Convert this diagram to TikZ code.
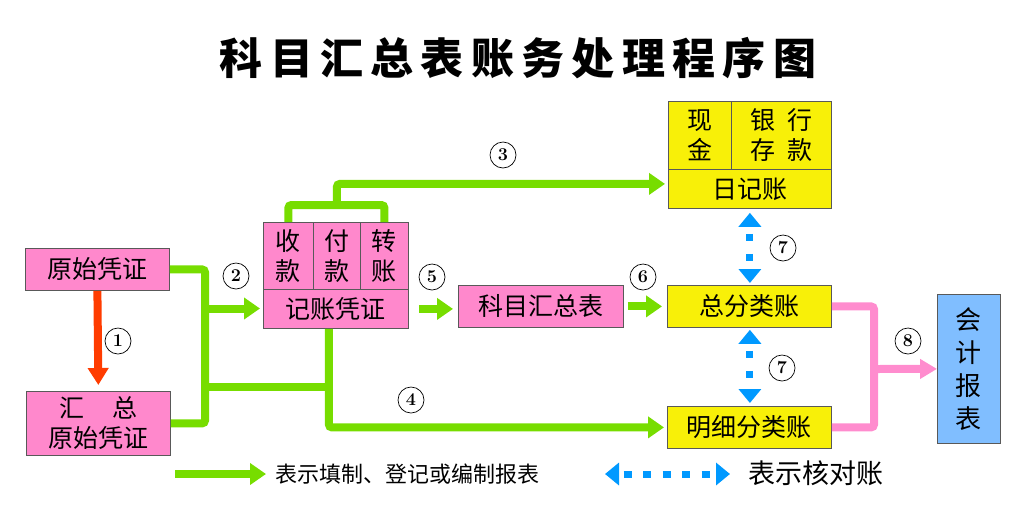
\documentclass[tikz,border=0pt]{standalone}
\usepackage{fontspec}
\newfontfamily\cjk{Noto Sans CJK SC}
\newfontfamily\cjktitle[LetterSpace=17]{Noto Sans CJK SC}
\usetikzlibrary{arrows.meta,positioning,calc}

\definecolor{boxpink}{RGB}{255,136,204}
\definecolor{boxyellow}{RGB}{248,240,8}
\definecolor{boxblue}{RGB}{128,190,255}
\definecolor{flowgreen}{RGB}{119,221,0}
\definecolor{flowred}{RGB}{255,60,0}
\definecolor{checkblue}{RGB}{0,153,255}
\definecolor{linkpink}{RGB}{255,140,206}

\begin{document}
\begin{tikzpicture}[
    x=1pt, y=-1pt,
    box/.style={draw=black!65, line width=0.8pt, anchor=north west, inner sep=0pt,
        align=center, font=\cjk\fontsize{25}{30}\selectfont},
    pinkbox/.style={box, fill=boxpink},
    yellowbox/.style={box, fill=boxyellow},
    num/.style={circle, draw, line width=0.7pt, minimum size=26pt, inner sep=0pt,
        font=\bfseries\fontsize{18}{18}\selectfont},
    flow/.style={draw=flowgreen, line width=8pt, rounded corners=3pt},
    flowarrow/.style={flow, -{Triangle[length=16pt,width=21pt]}},
    sumline/.style={draw=linkpink, line width=8pt, rounded corners=3pt},
    sumarrow/.style={sumline, -{Triangle[length=17pt,width=19pt]}},
    check/.style={draw=checkblue, line width=7pt, dash pattern=on 7pt off 13pt, dash phase=12pt,
        {Triangle[length=14pt,width=22pt]}-{Triangle[length=14pt,width=22pt]}}
]
    \useasboundingbox (0,0) rectangle (1024,512);

    % Title
    \node[font=\cjktitle\bfseries\fontsize{43}{43}\selectfont] (title) at (518,58) {科目汇总表账务处理程序图};

    % Vouchers
    \node[pinkbox, minimum width=144pt, minimum height=42pt] (yspz) at (25,248) {原始凭证};
    \node[pinkbox, minimum width=144pt, minimum height=64pt] (hzys) at (26,391) {汇\hspace{1.15em}总\\原始凭证};

    \node[pinkbox, minimum width=50pt, minimum height=67pt] (sk) at (263,222) {收\\款};
    \node[pinkbox, minimum width=47pt, minimum height=67pt] (fk) at (313,222) {付\\款};
    \node[pinkbox, minimum width=48pt, minimum height=67pt] (zz) at (360,222) {转\\账};
    \node[pinkbox, minimum width=145pt, minimum height=39pt] (jzpz) at (263,289) {记账凭证};

    \node[pinkbox, minimum width=165pt, minimum height=42pt] (kmhzb) at (458,285) {科目汇总表};

    % Ledgers
    \node[yellowbox, minimum width=63pt, minimum height=68pt] (xj) at (668,101) {现\\金};
    \node[yellowbox, minimum width=100pt, minimum height=68pt] (yhck) at (731,101) {银\hspace{.5em}行\\存\hspace{.5em}款};
    \node[yellowbox, minimum width=163pt, minimum height=39pt] (rjz) at (668,169) {日记账};
    \node[yellowbox, minimum width=164pt, minimum height=42pt] (zflz) at (667,285) {总分类账};
    \node[yellowbox, minimum width=164pt, minimum height=42pt] (mxflz) at (667,406) {明细分类账};

    \node[box, fill=boxblue, minimum width=63pt, minimum height=149pt, font=\cjk\fontsize{26}{33}\selectfont] (kjbb) at (937,294) {会\\计\\报\\表};

    % Junction points
    \coordinate (mid) at (205,308.5);
    \coordinate (link) at (205,387);
    \coordinate (down) at ([xshift=-7pt]jzpz.south);
    \coordinate (top) at ([yshift=17pt]fk.north);
    \coordinate (hub) at (874,369);

    % Step 1
    \draw[draw=flowred, line width=8pt, -{Triangle[length=17pt,width=20pt]}, shorten >=6pt] (yspz.south) -- (hzys.north);
    % Step 2
    \draw[flow] (yspz.east) -| (mid) |- (hzys.east);
    \draw[flowarrow, shorten >=3pt] (mid) -- (mid -| jzpz.west);
    \draw[flow] (link) -- (link -| down);
    % Step 3
    \draw[flow] (sk.north) |- (top) -| (zz.north);
    \draw[flowarrow, shorten >=3pt] (top) |- ([yshift=5pt]rjz.west);
    % Step 4
    \draw[flowarrow, shorten >=3pt] (down) |- (mxflz.west);
    % Step 5 and 6
    \draw[flowarrow, shorten <=10pt, shorten >=5pt] (jzpz.east) -- (jzpz.east -| kmhzb.west);
    \draw[flowarrow, shorten <=4pt, shorten >=5pt] (kmhzb.east) -- (kmhzb.east -| zflz.west);
    % Step 7
    \draw[check, shorten <=4pt, shorten >=2pt] (rjz.south) -- (rjz.south |- zflz.north);
    \draw[check, shorten <=2pt, shorten >=3pt] (rjz.south |- zflz.south) -- (rjz.south |- mxflz.north);
    % Step 8
    \draw[sumline] (zflz.east) -| (hub) |- (mxflz.east);
    \draw[sumarrow] (hub) -- (kjbb.west);

    % Step numbers
    \node[num] (n1) at (118,341) {1};
    \node[num] (n2) at (236,276) {2};
    \node[num] (n3) at (503,155) {3};
    \node[num] (n4) at (411,400) {4};
    \node[num] (n5) at (432,277) {5};
    \node[num] (n6) at (643,277) {6};
    \node[num] (n7a) at (783,248) {7};
    \node[num] (n7b) at (782,368) {7};
    \node[num] (n8) at (908,341) {8};

    % Legend
    \coordinate (lg1) at (175,474);
    \coordinate (lg2) at (266,474);
    \coordinate (lb1) at (605,474);
    \coordinate (lb2) at (730,474);
    \draw[flowarrow] (lg1) -- (lg2);
    \node[font=\cjk\fontsize{22}{22}\selectfont, anchor=west] (lgt1) at (272,474) {表示填制、登记或编制报表};
    \draw[check, dash pattern=on 8pt off 11.5pt, dash phase=14pt] (lb1) -- (lb2);
    \node[font=\cjk\fontsize{27}{27}\selectfont, anchor=west] (lgt2) at (745,473) {表示核对账};
\end{tikzpicture}
\end{document}
